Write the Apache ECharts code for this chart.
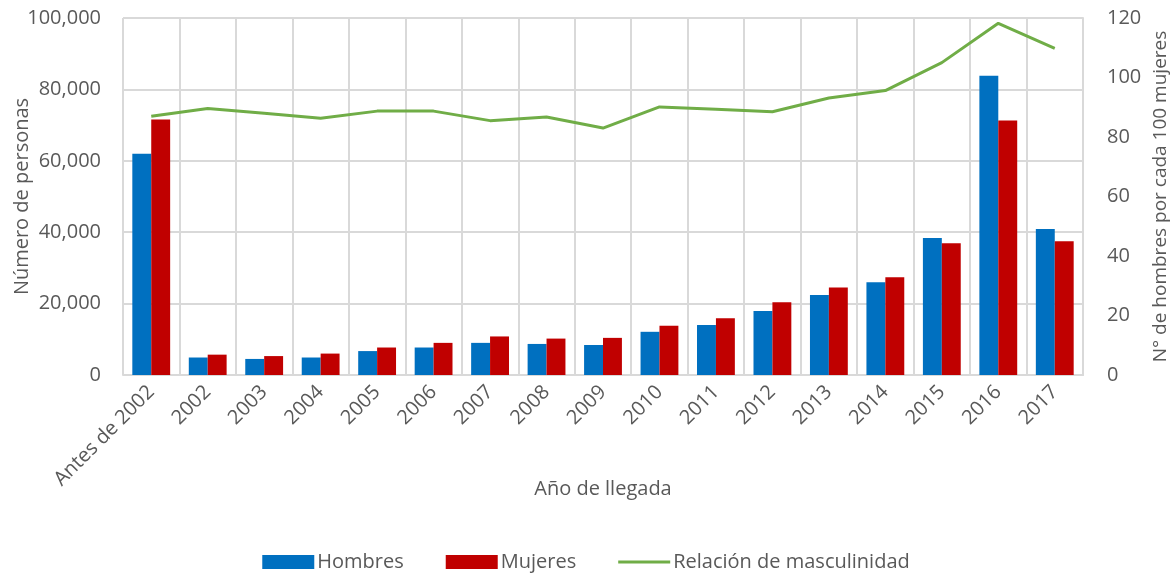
<!DOCTYPE html>
<html>
<head>
<meta charset="utf-8">
<script src="https://cdn.jsdelivr.net/npm/echarts@6/dist/echarts.min.js"></script>
<style>
  html, body { margin: 0; padding: 0; background: #fff; }
  #chart { width: 1172px; height: 575px; }
</style>
</head>
<body>
<div id="chart"></div>
<script>
// categorias (año de llegada)
const categories = ['Antes de 2002', '2002', '2003', '2004', '2005', '2006', '2007', '2008', '2009',
  '2010', '2011', '2012', '2013', '2014', '2015', '2016', '2017']
// numero de personas
const hombres = [62000, 4900, 4500, 4900, 6700, 7700, 9000, 8700, 8400,
  12100, 14000, 17900, 22400, 26000, 38400, 83800, 40900]
const mujeres = [71600, 5700, 5300, 6000, 7700, 9000, 10800, 10200, 10400,
  13800, 15900, 20400, 24500, 27400, 36900, 71300, 37500]
// hombres por cada 100 mujeres
const relacion = [87.0, 89.6, 88.0, 86.3, 88.7, 88.7, 85.5, 86.7, 83.0,
  90.1, 89.3, 88.5, 93.1, 95.6, 105.0, 118.2, 109.8]

const font = 'Open Sans'
const grey = '#595959'
const gridColor = '#d9d9d9'

const myChart = echarts.init(document.getElementById('chart'))
const option = {
  backgroundColor: '#fff',
  animation: false,
  textStyle: { fontFamily: font, color: grey },
  grid: { left: 123, right: 89, top: 18, bottom: 200, outerBoundsMode: 'none' },
  legend: {
    bottom: 3,
    left: 'center',
    padding: 0,
    itemWidth: 52,
    itemHeight: 14,
    itemGap: 42,
    textStyle: { fontFamily: font, fontSize: 20, color: grey, padding: [0, 0, 0, -2] },
    data: [
      { name: 'Hombres', icon: 'rect' },
      { name: 'Mujeres', icon: 'rect' },
      { name: 'Relación de masculinidad', icon: 'path://M0,0L52,0L52,3L0,3Z' }
    ]
  },
  xAxis: {
    type: 'category',
    data: categories,
    name: 'Año de llegada',
    nameLocation: 'middle',
    nameGap: 104,
    nameMoveOverlap: false,
    nameTextStyle: { fontFamily: font, fontSize: 20, color: grey },
    axisTick: { show: false },
    axisLine: { lineStyle: { color: gridColor, width: 2 } },
    splitLine: { show: true, lineStyle: { color: gridColor, width: 2 } },
    axisLabel: { rotate: 45, fontSize: 20, color: grey, interval: 0, margin: 14 }
  },
  yAxis: [
    {
      type: 'value',
      min: 0,
      max: 100000,
      interval: 20000,
      name: 'Número de personas',
      nameLocation: 'middle',
      nameGap: 91,
      nameMoveOverlap: false,
      nameTextStyle: { fontFamily: font, fontSize: 20, color: grey },
      axisLine: { show: false },
      axisTick: { show: false },
      splitLine: { lineStyle: { color: gridColor, width: 2 } },
      axisLabel: {
        fontSize: 20, color: grey, margin: 22,
        formatter: v => v.toLocaleString('en-US')
      }
    },
    {
      type: 'value',
      min: 0,
      max: 120,
      interval: 20,
      name: 'N° de hombres por cada 100 mujeres',
      nameLocation: 'middle',
      nameGap: 68,
      nameMoveOverlap: false,
      nameTextStyle: { fontFamily: font, fontSize: 19, color: grey },
      axisLine: { show: true, lineStyle: { color: gridColor, width: 2 } },
      axisTick: { show: false },
      splitLine: { show: false },
      axisLabel: { fontSize: 20, color: grey, margin: 24 }
    }
  ],
  series: [
    {
      name: 'Hombres',
      type: 'bar',
      data: hombres,
      barGap: '0%',
      barCategoryGap: '33%',
      itemStyle: { color: '#0070C0' }
    },
    {
      name: 'Mujeres',
      type: 'bar',
      data: mujeres,
      itemStyle: { color: '#C00000' }
    },
    {
      name: 'Relación de masculinidad',
      type: 'line',
      yAxisIndex: 1,
      data: relacion,
      showSymbol: false,
      symbol: 'none',
      lineStyle: { color: '#70AD47', width: 3 },
      itemStyle: { color: '#70AD47' }
    }
  ]
}
myChart.setOption(option)
</script>
</body>
</html>
